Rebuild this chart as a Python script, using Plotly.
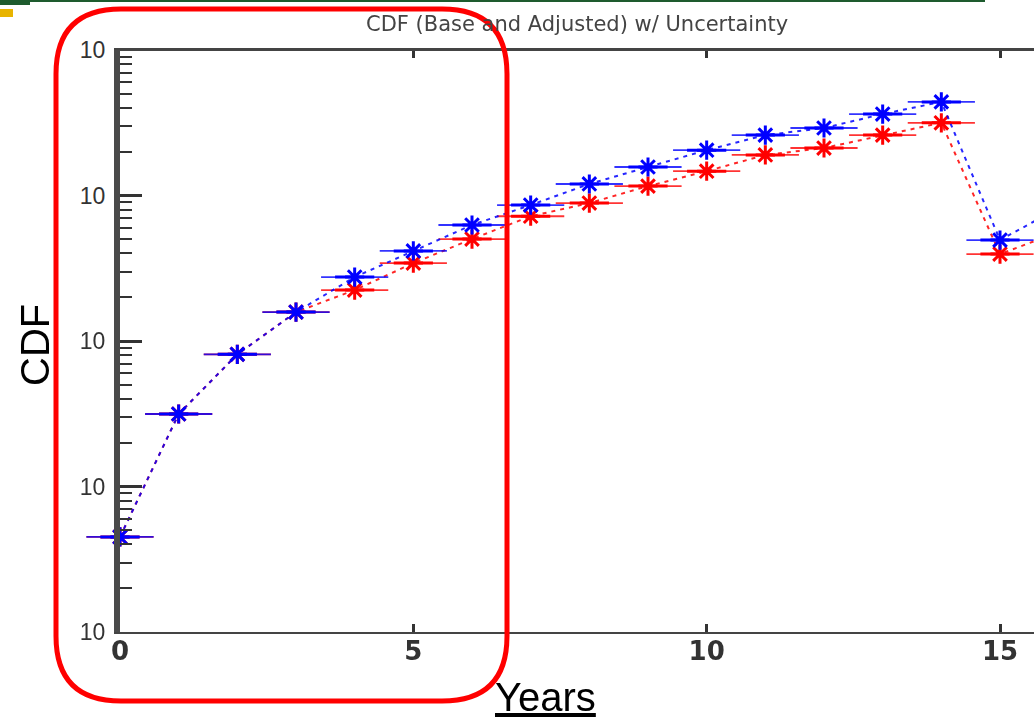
import plotly.graph_objects as go

# ---- data ----
years = list(range(0, 17))
cdf_base = [4.5e-5, 3.15e-4, 8.1e-4, 1.58e-3, 2.75e-3, 4.16e-3, 6.27e-3, 8.6e-3,
            1.2e-2, 1.57e-2, 2.05e-2, 2.6e-2, 2.91e-2, 3.63e-2, 4.4e-2, 4.94e-3, 8.2e-3]
cdf_adjusted = [4.5e-5, 3.15e-4, 8.1e-4, 1.58e-3, 2.24e-3, 3.43e-3, 5.02e-3, 7.2e-3,
                8.87e-3, 1.16e-2, 1.47e-2, 1.9e-2, 2.12e-2, 2.6e-2, 3.16e-2, 3.96e-3, 5.6e-3]
x_ticks = [0, 5, 10, 15]
y_ticks = [1e-5, 1e-4, 1e-3, 1e-2, 1e-1]
y_ticktext = ["10", "10", "10", "10", "10"]

title_text = "CDF (Base and Adjusted) w/ Uncertainty"
x_title = "Years"
y_title = "CDF"

W, H = 1034, 718
ML, MR, MT, MB = 120, 0, 50, 86
PW, PH = W - ML - MR, H - MT - MB


def px(x):
    return (x - ML) / PW


def py(y):
    return (H - MB - y) / PH


fig = go.Figure()

series = [(cdf_adjusted, "#ff0000", "Adjusted"), (cdf_base, "#0000ff", "Base")]
for vals, col, name in series:
    fig.add_trace(go.Scatter(
        x=years, y=vals, mode="lines", name=name,
        line=dict(color=col, width=2, dash="4px,5px"),
        opacity=0.85, showlegend=False, hoverinfo="skip"))
    fig.add_trace(go.Scatter(
        x=years, y=vals, mode="markers", name=name,
        marker=dict(symbol="line-ew", size=48, line=dict(color=col, width=1.8)),
        opacity=0.8, cliponaxis=False, showlegend=False, hoverinfo="skip"))
    fig.add_trace(go.Scatter(
        x=years, y=vals, mode="markers", name=name,
        marker=dict(symbol="line-ew", size=28, line=dict(color=col, width=3)),
        cliponaxis=False, showlegend=False, hoverinfo="skip"))
    fig.add_trace(go.Scatter(
        x=years, y=vals, mode="markers", name=name,
        marker=dict(symbol="asterisk", size=16, line=dict(color=col, width=3)),
        cliponaxis=False, showlegend=False))

fig.update_xaxes(
    range=[0, (W - ML) / (1000 - ML) * 15],
    tickvals=x_ticks, ticktext=[str(v) for v in x_ticks],
    ticks="inside", ticklen=8, tickwidth=3, tickcolor="#333",
    showline=True, linecolor="#444", linewidth=2, mirror="ticks",
    showgrid=False, zeroline=False,
    ticklabelstandoff=-5,
    tickfont=dict(family="DejaVu Sans", size=26, color="#333", weight="bold"),
)
fig.update_yaxes(
    type="log", range=[-5, -1],
    tickvals=y_ticks, ticktext=y_ticktext,
    ticks="inside", ticklen=22, tickwidth=2.5, tickcolor="#333",
    minor=dict(ticks="inside", ticklen=12, tickwidth=2, tickcolor="#333", dtick="D1", showgrid=False),
    showline=True, linecolor="#4a4a4a", linewidth=6, mirror=False,
    showgrid=False, zeroline=False,
    ticklabelstandoff=4,
    tickfont=dict(family="Liberation Sans", size=23, color="#333"),
)

shapes = []
# top plot border line
shapes.append(dict(type="line", xref="paper", yref="paper", x0=0, x1=1, y0=1, y1=1,
                   line=dict(color="#444", width=2), layer="above"))
# slide decorations
shapes.append(dict(type="rect", xref="paper", yref="paper", x0=px(0), x1=px(985), y0=py(0), y1=py(2),
                   fillcolor="#1e5b2e", line=dict(width=0)))
shapes.append(dict(type="rect", xref="paper", yref="paper", x0=px(0), x1=px(30), y0=py(0), y1=py(5),
                   fillcolor="#1e5b2e", line=dict(width=0)))
shapes.append(dict(type="rect", xref="paper", yref="paper", x0=px(0), x1=px(13), y0=py(9), y1=py(17),
                   fillcolor="#e8b400", line=dict(width=0)))

# red rounded highlight box
L, R, T, B, r = 56, 507, 9, 701, 65


def P(x, y):
    return f"{px(x):.5f},{py(y):.5f}"


path = (f"M {P(L + r, T)} L {P(R - r, T)} Q {P(R, T)} {P(R, T + r)} "
        f"L {P(R, B - r)} Q {P(R, B)} {P(R - r, B)} "
        f"L {P(L + r, B)} Q {P(L, B)} {P(L, B - r)} "
        f"L {P(L, T + r)} Q {P(L, T)} {P(L + r, T)} Z")
shapes.append(dict(type="path", xref="paper", yref="paper", path=path,
                   line=dict(color="#ff0000", width=5), layer="above"))

annotations = [
    dict(text=title_text, xref="paper", yref="paper", x=px(577), y=py(24),
         showarrow=False, font=dict(family="DejaVu Sans", size=21, color="#444"),
         xanchor="center", yanchor="middle"),
    dict(text=f"<u>{x_title}</u>", xref="paper", yref="paper", x=px(545), y=py(697),
         showarrow=False, font=dict(family="Liberation Sans", size=40, color="#000"),
         xanchor="center", yanchor="middle"),
    dict(text=y_title, xref="paper", yref="paper", x=px(35), y=py(345),
         showarrow=False, textangle=-90, font=dict(family="Liberation Sans", size=40, color="#000"),
         xanchor="center", yanchor="middle"),
]

fig.update_layout(
    width=W, height=H,
    margin=dict(l=ML, r=MR, t=MT, b=MB, pad=0),
    paper_bgcolor="white", plot_bgcolor="white",
    shapes=shapes, annotations=annotations,
    showlegend=False,
)

fig.write_html("out.html")
